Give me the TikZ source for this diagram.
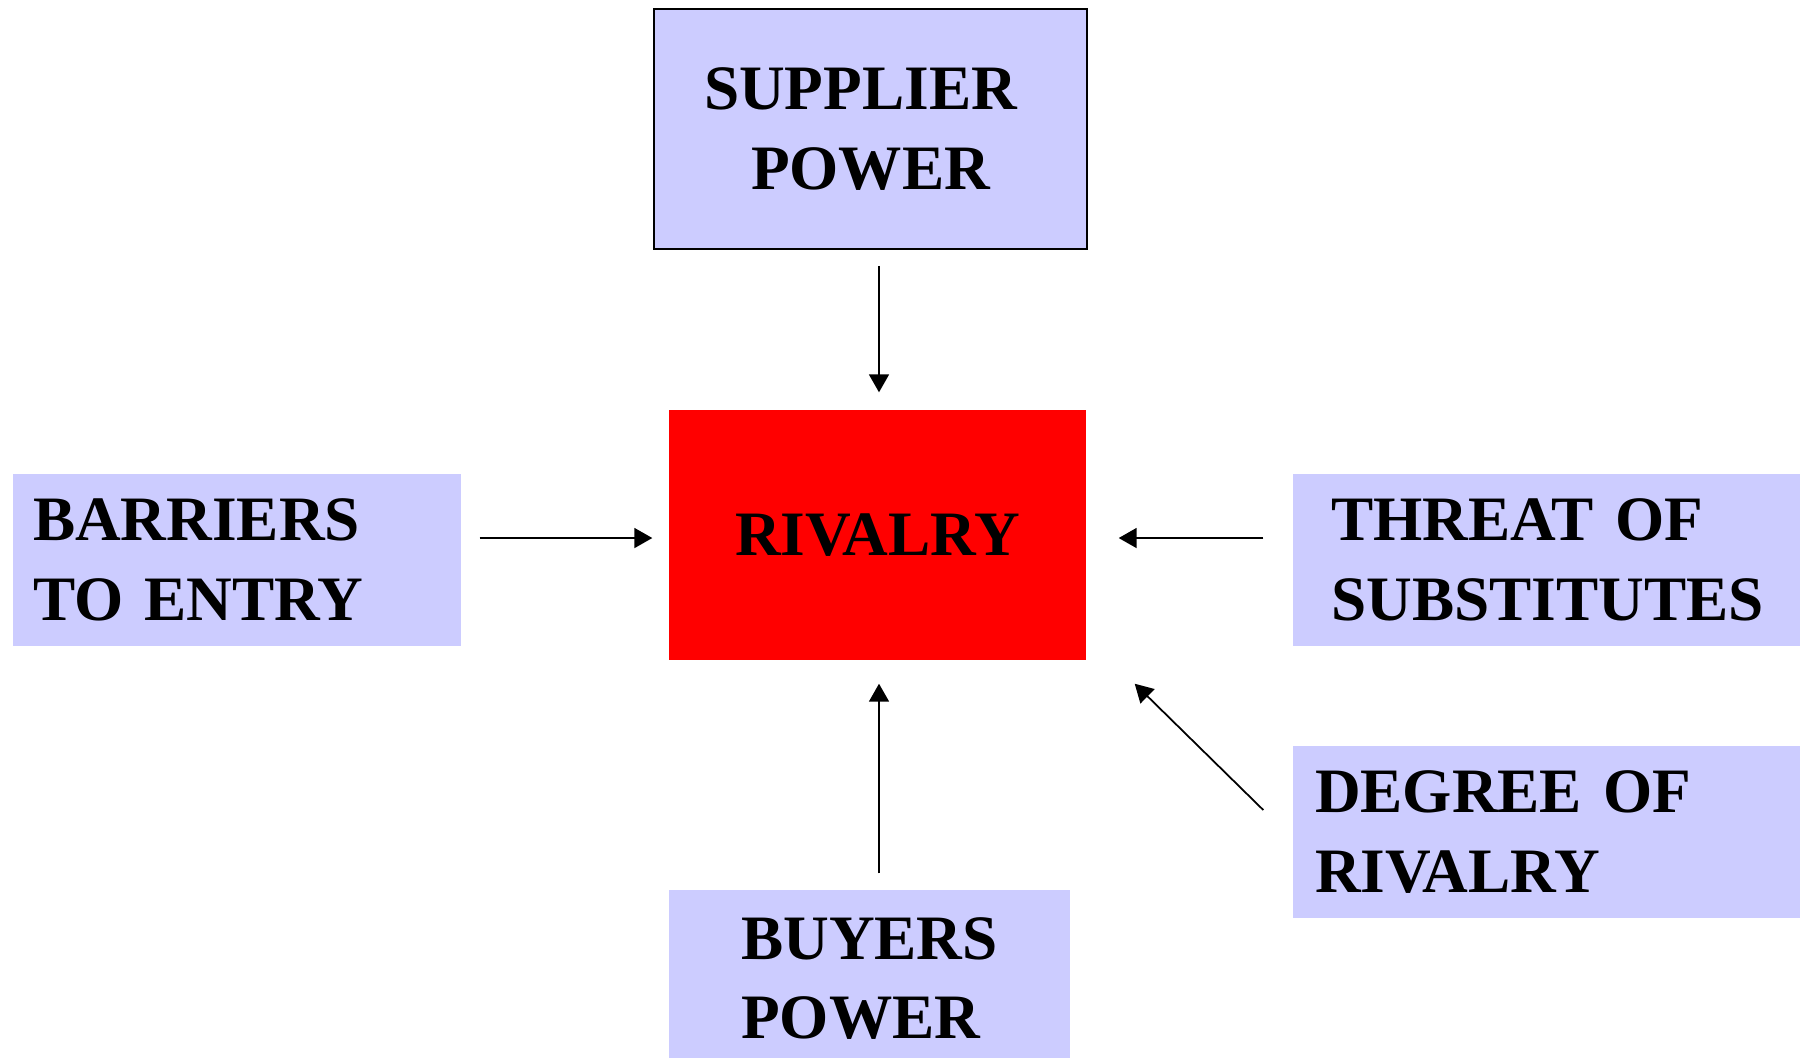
\documentclass[tikz,border=0pt]{standalone}
\usepackage{fontspec}
\setmainfont{Liberation Serif}
\usepackage{tikz}
\usetikzlibrary{arrows.meta,positioning}
\definecolor{lilac}{HTML}{CCCCFF}

\begin{document}
\begin{tikzpicture}[x=0.1mm, y=-0.1mm]
	\tikzstyle{every node} = [font=\bfseries\fontsize{18}{22.6}\selectfont, inner sep=0pt]
	\tikzstyle{force} = [fill=lilac]
	\tikzstyle{push} = [-{Triangle[length=1.8mm, width=2mm]}, line width=0.5pt]
	\useasboundingbox (0,0) rectangle (1800,1057);
\node[fill=red, minimum width=4.17cm, minimum height=2.5cm] (0) at (877.5,535) {RIVALRY};
\node[force, draw=black, line width=0.5pt, minimum width=4.33cm, minimum height=2.4cm, align=center] (1) at (870.5,129) {SUPPLIER\hspace*{2mm}\\POWER};
\node[force, text width=4.08cm, inner xsep=2mm, minimum height=1.72cm, align=left] (2) at (237,560) {BARRIERS\\TO ENTRY};
\node[force, text width=4.3cm, inner xsep=3.85mm, minimum height=1.72cm, align=left] (3) at (1546.5,560) {THREAT OF\\SUBSTITUTES};
\node[force, text width=4.63cm, inner xsep=2.2mm, minimum height=1.72cm, align=left] (4) at (1546.5,832) {DEGREE OF\\RIVALRY};
\node[force, minimum width=4.01cm, minimum height=1.77cm, align=left] (5) at (869.5,978.5) {BUYERS\\POWER};
	\path[draw, push] ([shift={(8.5,16)}]1.south) -- ([shift={(1.5,-17)}]0.north);
	\path[draw, push] ([shift={(18,-22)}]2.east) -- ([shift={(-16,3)}]0.west);
	\path[draw, push] ([shift={(-29,-22)}]3.west) -- ([shift={(32,3)}]0.east);
	\path[draw, push] ([shift={(-29,-22)}]4.west) -- ([shift={(48,23)}]0.south east);
	\path[draw, push] ([shift={(9.5,-16)}]5.north) -- ([shift={(1.5,23)}]0.south);
\end{tikzpicture}
\end{document}
